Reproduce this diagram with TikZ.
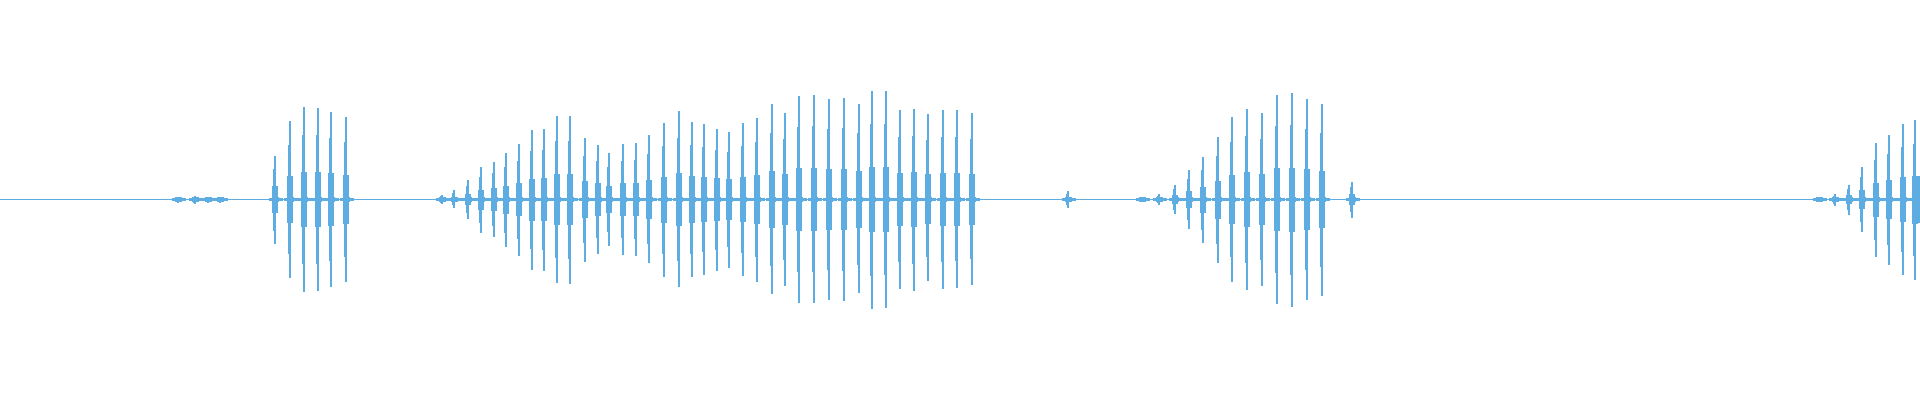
\documentclass[tikz,border=0pt]{standalone}
\definecolor{wave}{RGB}{93,173,226}
\begin{document}
\begin{tikzpicture}[x=0.5pt,y=-0.5pt,wv/.style={draw=wave,line cap=butt}]
\useasboundingbox (0,0) rectangle (1920,400);
\draw[wv,line width=0.8pt] (0,199.5) -- (1920,199.5);
\foreach \x/\t/\b in {
178/197/203,195/196/204,208/197/203,220/197/203,
275/156/244,290/121/278,304/107/292,318/108/291,331/112/287,346/117/282,
442/195/204,454/190/208,468/180/219,481/167/233,494/162/237,506/153/247,519/144/256,532/130/270,544/129/271,557/116/283,570/116/284,585/138/262,598/145/254,609/153/246,623/144/255,636/143/256,649/135/263,
664/123/277,679/111/287,692/122/277,704/124/275,717/129/271,729/132/268,743/123/276,757/118/282,772/104/294,785/113/286,799/96/303,814/95/303,829/99/300,844/98/301,859/104/293,872/91/309,886/91/308,900/110/289,914/109/291,928/114/281,943/110/289,957/110/288,972/113/285,
1068/191/208,1142/197/202,1159/194/205,1175/185/214,1189/170/229,1203/157/243,1218/137/263,1232/117/282,1247/109/290,1262/113/286,1277/95/304,1292/93/307,1307/99/300,1322/104/296,1352/182/218,
1819/197/202,1835/194/206,1849/185/215,1862/167/232,1876/143/257,1889/135/265,1903/124/275,1915/120/280,1919/176/223}{
  \pgfmathsetmacro{\ta}{199.5-0.7*(199.5-\t)}
  \pgfmathsetmacro{\ba}{199.5+0.7*(\b-199.5)}
  \pgfmathsetmacro{\tb}{199.5-0.3*(199.5-\t)}
  \pgfmathsetmacro{\bb}{199.5+0.3*(\b-199.5)}
  \draw[wv,line width=1pt] (\x,\t) -- (\x,\b);
  \draw[wv,line width=1.8pt] (\x-0.5,\ta) -- (\x-0.5,\ba);
  \draw[wv,line width=3.2pt] (\x,\tb) -- (\x,\bb);
  \draw[wv,line width=1.2pt] (\x-6,199.5) -- (\x+8,199.5);
  \draw[wv,line width=2.4pt] (\x-3,199.5) -- (\x+4,199.5);
}
\end{tikzpicture}
\end{document}
